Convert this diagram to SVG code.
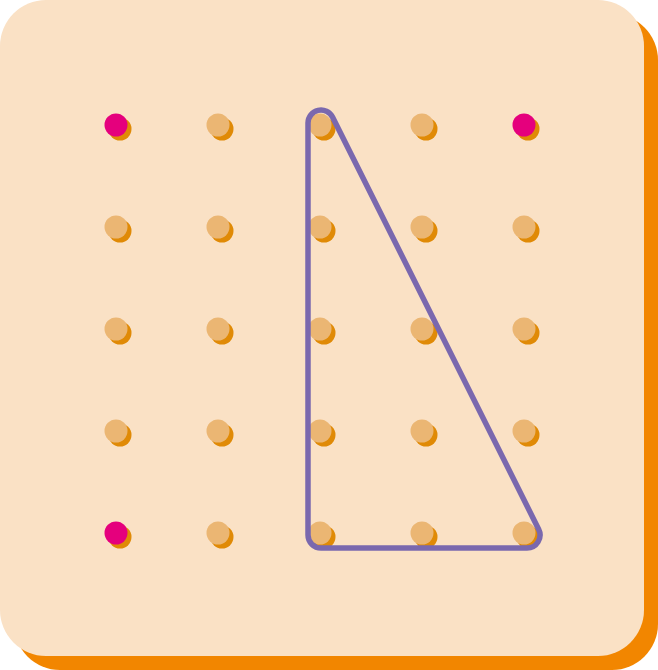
<svg xmlns="http://www.w3.org/2000/svg" width="658" height="670" viewBox="0 0 658 670">
<defs>
<style>
.peg{fill:#EBB673}
.pegs{fill:#E08A06}
.pink{fill:#E5007D}
.band{fill:none;stroke:#7A68AE;stroke-width:5.5;stroke-linejoin:round}
</style>
<g id="peg"><circle class="pegs" cx="4" cy="4" r="11.5"/><circle class="peg" cx="0" cy="0" r="11.5"/></g>
<g id="pinkpeg"><circle class="pegs" cx="4" cy="4" r="11.5"/><circle class="pink" cx="0" cy="0" r="11.5"/></g>
</defs>
<g id="board">
<rect x="14" y="14" width="644" height="656" rx="46" fill="#F28600"/>
<rect x="0" y="0" width="644" height="656" rx="46" fill="#FAE1C5"/>
</g>
<g id="pegs">
<use href="#pinkpeg" x="116" y="125"/><use href="#peg" x="218" y="125"/><use href="#peg" x="320" y="125"/><use href="#peg" x="422" y="125"/><use href="#pinkpeg" x="524" y="125"/>
<use href="#peg" x="116" y="227"/><use href="#peg" x="218" y="227"/><use href="#peg" x="320" y="227"/><use href="#peg" x="422" y="227"/><use href="#peg" x="524" y="227"/>
<use href="#peg" x="116" y="329"/><use href="#peg" x="218" y="329"/><use href="#peg" x="320" y="329"/><use href="#peg" x="422" y="329"/><use href="#peg" x="524" y="329"/>
<use href="#peg" x="116" y="431"/><use href="#peg" x="218" y="431"/><use href="#peg" x="320" y="431"/><use href="#peg" x="422" y="431"/><use href="#peg" x="524" y="431"/>
<use href="#pinkpeg" x="116" y="533"/><use href="#peg" x="218" y="533"/><use href="#peg" x="320" y="533"/><use href="#peg" x="422" y="533"/><use href="#peg" x="524" y="533"/>
</g>
<g id="band">
<path class="band" d="M308,535 L308,123 A13,13 0 0 1 332.63,117.19 L538.63,529.19 A13,13 0 0 1 527,548 L321,548 A13,13 0 0 1 308,535 Z"/>
</g>
</svg>
